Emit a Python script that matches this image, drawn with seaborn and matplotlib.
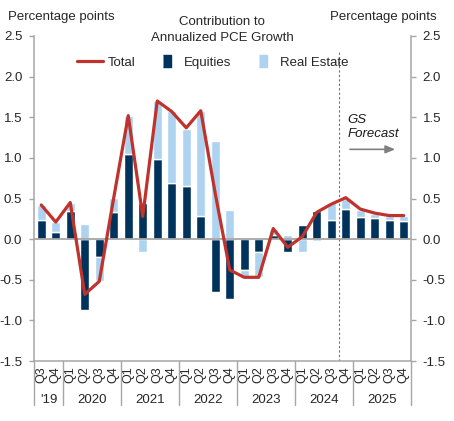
import numpy as np
import matplotlib
matplotlib.use("Agg")
import matplotlib.pyplot as plt
from matplotlib.lines import Line2D
import seaborn as sns

# quarters 2019Q3 .. 2025Q4
quarters = ["Q3", "Q4"] + ["Q1", "Q2", "Q3", "Q4"] * 6
years = ["'19", "2020", "2021", "2022", "2023", "2024", "2025"]
year_len = [2, 4, 4, 4, 4, 4, 4]

equities = [0.23, 0.09, 0.35, -0.87, -0.22, 0.34, 1.05, 0.44, 0.99, 0.69, 0.65, 0.29,
            -0.65, -0.74, -0.38, -0.16, 0.05, -0.16, 0.18, 0.35, 0.24, 0.37, 0.27, 0.26,
            0.23, 0.22]
real_estate = [0.19, 0.12, 0.10, 0.19, -0.29, 0.17, 0.46, -0.16, 0.71, 0.89, 0.70, 1.29,
               1.21, 0.36, -0.09, -0.31, 0.07, 0.05, -0.16, -0.02, 0.20, 0.13, 0.09, 0.05,
               0.05, 0.06]
total = [0.42, 0.21, 0.45, -0.68, -0.52, 0.51, 1.52, 0.28, 1.70, 1.57, 1.37, 1.58,
         0.56, -0.38, -0.47, -0.47, 0.13, -0.10, 0.03, 0.33, 0.43, 0.51, 0.37, 0.32,
         0.29, 0.29]

navy = "#00335b"
light = "#add3f1"
red = "#c0322c"
grey = "#a6a6a6"

sns.set_style("white")
plt.rcParams["font.family"] = ["Liberation Sans", "DejaVu Sans"]
plt.rcParams["font.size"] = 9.5

eq = np.array(equities)
re = np.array(real_estate)
idx = np.arange(len(quarters))
re_bottom = np.where(re >= 0, np.maximum(eq, 0), np.minimum(eq, 0))

fig = plt.figure(figsize=(4.54, 4.21), dpi=100)
ax = fig.add_axes([34 / 454, 1 - 361 / 421, 377 / 454, 325 / 421])

sns.barplot(x=idx, y=eq, color=navy, width=0.6, errorbar=None, saturation=1, ax=ax)
sns.barplot(x=idx, y=re, bottom=re_bottom, color=light, width=0.6, errorbar=None,
            saturation=1, ax=ax)
ax.axhline(0, color=grey, lw=1.3, zorder=4)
sns.lineplot(x=idx, y=total, color=red, lw=2.3, ax=ax, zorder=5)

ax.set_xlim(-0.5, len(quarters) - 0.5)
ax.set_ylim(-1.5, 2.5)
ax.set_yticks(np.arange(-1.5, 2.51, 0.5))
ax.set_yticklabels([f"{v:.1f}" for v in np.arange(-1.5, 2.51, 0.5)])
ax.tick_params(axis="y", which="both", left=True, right=True, labelleft=True,
               labelright=True, direction="out", length=3.5, width=1, color=grey,
               pad=5, labelsize=9.5)

# quarter labels and separators
ax.set_xticks(idx)
ax.set_xticklabels(quarters, rotation=90, fontsize=9)
ax.tick_params(axis="x", which="major", length=0, pad=4)
ax.set_xticks(np.arange(-0.5, len(quarters), 1), minor=True)
ax.tick_params(axis="x", which="minor", length=20, width=1, color=grey, direction="out")
ax.set_xlabel("")
ax.set_ylabel("")

start = -0.5
for yr, n in zip(years, year_len):
    ax.text(start + n / 2, -0.12, yr, transform=ax.get_xaxis_transform(),
            ha="center", va="center", fontsize=9.5)
    ax.plot([start, start], [0, -0.135], transform=ax.get_xaxis_transform(),
            color=grey, lw=1, clip_on=False)
    start += n
ax.plot([start, start], [0, -0.135], transform=ax.get_xaxis_transform(),
        color=grey, lw=1, clip_on=False)

for s in ["left", "right", "bottom"]:
    ax.spines[s].set_color(grey)
    ax.spines[s].set_linewidth(1.1)
ax.spines["top"].set_visible(False)

# forecast marker
ax.vlines(20.5, -1.5, 2.33, colors="#707070", linestyles=(0, (2, 2)), lw=0.8)
ax.text(21.1, 1.38, "GS\nForecast", fontstyle="italic", ha="left", va="center",
        fontsize=9.5, color="#1a1a1a", linespacing=1.15)
ax.annotate("", xy=(24.6, 1.105), xytext=(21.1, 1.105),
            arrowprops=dict(arrowstyle="-|>,head_length=0.6,head_width=0.25",
                            color="#808080", lw=1.2))

handles = [
    Line2D([], [], color=red, lw=2.3),
    Line2D([], [], marker=[(-0.3, -0.5), (0.3, -0.5), (0.3, 0.5), (-0.3, 0.5)],
           markersize=9, color=navy, linestyle="none"),
    Line2D([], [], marker=[(-0.3, -0.5), (0.3, -0.5), (0.3, 0.5), (-0.3, 0.5)],
           markersize=9, color=light, linestyle="none"),
]
ax.legend(handles, ["Total", "Equities", "Real Estate"], ncol=3, frameon=False,
          loc="center left", bbox_to_anchor=(0.1, 0.917), handlelength=2.0,
          handletextpad=0.3, columnspacing=1.4, fontsize=9.5, borderaxespad=0)

fig.text(8 / 454, 1 - 17 / 421, "Percentage points", ha="left", va="center")
fig.text(437 / 454, 1 - 17 / 421, "Percentage points", ha="right", va="center")
fig.text(222 / 454, 1 - 30 / 421, "Contribution to\nAnnualized PCE Growth",
         ha="center", va="center", linespacing=1.45)

fig.savefig("out.png", dpi=100)
